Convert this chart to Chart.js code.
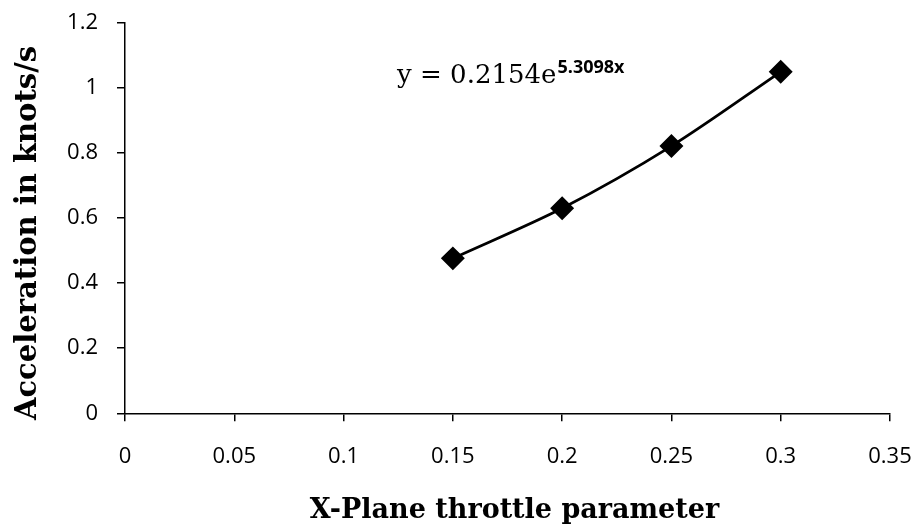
<!DOCTYPE html>
<html>
<head>
<meta charset="utf-8">
<script src="https://cdn.jsdelivr.net/npm/chart.js@4.4.1/dist/chart.umd.min.js"></script>
<style>
  html, body { margin: 0; padding: 0; background: #fff; }
  #wrap { width: 920px; height: 528px; }
</style>
</head>
<body>
<div id="wrap"><canvas id="accelChart"></canvas></div>
<script>
// measured points: throttle setting vs. acceleration
const throttle = [0.15, 0.2, 0.25, 0.3];
const acceleration = [0.476, 0.63, 0.821, 1.049];

const xTickLabels = ['0', '0.05', '0.1', '0.15', '0.2', '0.25', '0.3', '0.35'];
const yTickLabels = ['0', '0.2', '0.4', '0.6', '0.8', '1', '1.2'];

const xTitle = 'X-Plane throttle parameter';
const yTitle = 'Acceleration in knots/s';

// exponential fit shown on the chart
const fitText = 'y = 0.2154e';
const fitExponent = '5.3098x';
const fitAnchor = { x: 0.1245, y: 1.015 };

const tickFont = { family: 'Open Sans', size: 22 };

const PAD = { left: 0, right: 30, top: 22.7, bottom: 0 };

// no extra room for label overflow, the padding above already covers it
function noOverflow(scale) {
    scale.paddingLeft = 0;
    scale.paddingRight = 0;
    scale.paddingTop = 0;
    scale.paddingBottom = 0;
}

// axis titles and the fit equation
const chartText = {
    id: 'chartText',
    afterDraw(chart) {
        const { ctx, scales, chartArea } = chart;
        ctx.save();
        ctx.fillStyle = '#000';

        // x title
        ctx.textAlign = 'center';
        ctx.textBaseline = 'middle';
        ctx.font = 'bold 27px "DejaVu Serif"';
        ctx.fillText(xTitle, (chartArea.left + chartArea.right) / 2 + 7, 511);

        // y title, rotated
        ctx.save();
        ctx.translate(28, (chartArea.top + chartArea.bottom) / 2 + 15);
        ctx.rotate(-Math.PI / 2);
        ctx.font = 'bold 29px "DejaVu Serif"';
        ctx.fillText(yTitle, 0, 0);
        ctx.restore();

        // equation
        const px = scales.x.getPixelForValue(fitAnchor.x);
        const py = scales.y.getPixelForValue(fitAnchor.y);
        ctx.textAlign = 'left';
        ctx.textBaseline = 'alphabetic';
        ctx.font = '26px "DejaVu Serif"';
        ctx.fillText(fitText, px, py);
        const w = ctx.measureText(fitText).width;
        ctx.font = 'bold 18px "Open Sans"';
        ctx.fillText(fitExponent, px + w + 1, py - 10);
        ctx.restore();
    }
};

const points = throttle.map((t, i) => ({ x: t, y: acceleration[i] }));

new Chart(document.getElementById('accelChart'), {
    type: 'scatter',
    data: {
        datasets: [{
            data: points,
            showLine: true,
            tension: 0.3,
            borderColor: '#000',
            borderWidth: 2.8,
            backgroundColor: '#000',
            pointStyle: 'rectRot',
            pointRadius: 10,
            pointHoverRadius: 10
        }]
    },
    options: {
        responsive: true,
        maintainAspectRatio: false,
        animation: false,
        layout: { padding: PAD },
        plugins: {
            legend: { display: false },
            tooltip: { enabled: false }
        },
        scales: {
            x: {
                type: 'linear',
                min: 0,
                max: 0.35,
                afterFit(scale) {
                    scale.height = 528 - 413.3;
                    noOverflow(scale);
                },
                border: { display: true, color: '#000', width: 1.5 },
                grid: { drawOnChartArea: false, drawTicks: true, tickLength: 8, color: '#000', lineWidth: 1.5 },
                ticks: {
                    stepSize: 0.05,
                    color: '#000',
                    font: tickFont,
                    padding: 22,
                    maxRotation: 0,
                    callback: (v, i) => xTickLabels[i]
                }
            },
            y: {
                type: 'linear',
                min: 0,
                max: 1.2,
                afterFit(scale) {
                    scale.width = 125;
                    noOverflow(scale);
                },
                border: { display: true, color: '#000', width: 1.5 },
                grid: { drawOnChartArea: false, drawTicks: true, tickLength: 8, color: '#000', lineWidth: 1.5 },
                ticks: {
                    stepSize: 0.2,
                    color: '#000',
                    font: tickFont,
                    padding: 19,
                    callback: (v, i) => yTickLabels[i]
                }
            }
        }
    },
    plugins: [chartText]
});
</script>
</body>
</html>
